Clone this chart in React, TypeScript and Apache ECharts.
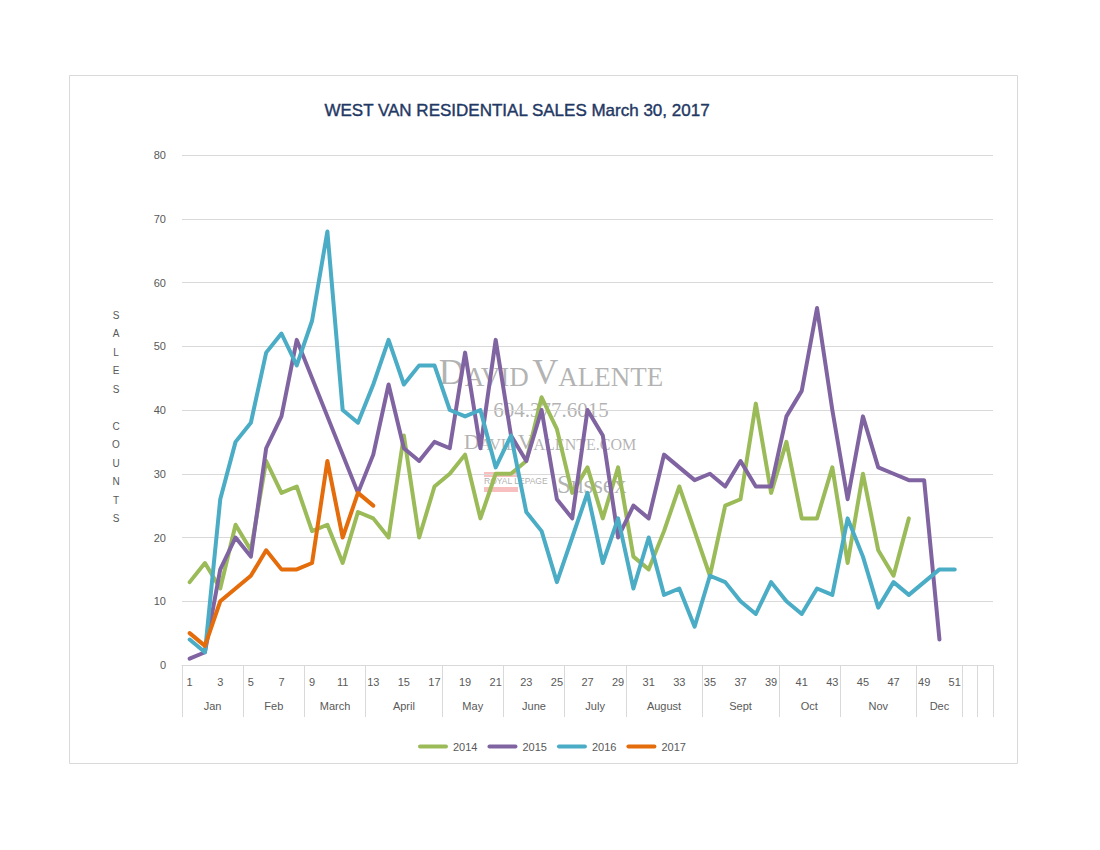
import React, { useEffect, useRef } from "react";
import * as echarts from "echarts";

const weekLabels = [
  "1", "2", "3", "4", "5", "6", "7", "8", "9", "10", "11", "12", "13", "14", "15", "16", "17", "18",
  "19", "20", "21", "22", "23", "24", "25", "26", "27", "28", "29", "30", "31", "32", "33", "34", "35",
  "36", "37", "38", "39", "40", "41", "42", "43", "44", "45", "46", "47", "48", "49", "50", "51", "", "",
];

const monthNames = ["Jan", "Feb", "March", "April", "May", "June", "July", "August", "Sept", "Oct", "Nov", "Dec", "", ""];
const monthWeeks = [4, 4, 4, 5, 4, 4, 4, 5, 5, 4, 5, 3, 1, 1];

const sales2014 = [
  13, 16, 12, 22, 18, 32, 27, 28, 21, 22, 16, 24, 23, 20, 36, 20, 28, 30, 33, 23, 30, 30, 32, 42, 37,
  27, 31, 23, 31, 17, 15, 21, 28, 21, 14, 25, 26, 41, 27, 35, 23, 23, 31, 16, 30, 18, 14, 23,
];
const sales2015 = [
  1, 2, 15, 20, 17, 34, 39, 51, 45, 39, 33, 27, 33, 44, 34, 32, 35, 34, 49, 34, 51, 36, 32, 40, 26,
  23, 40, 36, 20, 25, 23, 33, 31, 29, 30, 28, 32, 28, 28, 39, 43, 56, 40, 26, 39, 31, 30, 29, 29, 4,
];
const sales2016 = [
  4, 2, 26, 35, 38, 49, 52, 47, 54, 68, 40, 38, 44, 51, 44, 47, 47, 40, 39, 40, 31, 36, 24, 21, 13,
  20, 27, 16, 23, 12, 20, 11, 12, 6, 14, 13, 10, 8, 13, 10, 8, 12, 11, 23, 17, 9, 13, 11, 13, 15, 15,
];
const sales2017 = [5, 3, 10, 12, 14, 18, 15, 15, 16, 32, 20, 27, 25];

const seriesNames = ["2014", "2015", "2016", "2017"];
const seriesColors = ["#9BBB59", "#8064A2", "#4BACC6", "#E46C0A"];

const FONT = '"Liberation Sans", Arial, sans-serif';
const SERIF = '"Liberation Serif", "Times New Roman", serif';
const GRAY = "#595959";
const LIGHT = "#d9d9d9";

export default function App() {
  const ref = useRef<HTMLDivElement>(null);

  useEffect(() => {
    if (!ref.current) return;
    const chart = echarts.init(ref.current, undefined, { renderer: "svg" });

    const boundaries: number[] = [];
    const centers: { v: number; name: string }[] = [];
    let acc = 0;
    monthWeeks.forEach((n, i) => {
      boundaries.push(acc);
      centers.push({ v: acc + n / 2, name: monthNames[i] });
      acc += n;
    });

    const pad = (arr: number[]) => weekLabels.map((_, i) => (i < arr.length ? arr[i] : null));
    const allData = [sales2014, sales2015, sales2016, sales2017];

    const wm = "#9a9a9a";

    chart.setOption({
      animation: false,
      backgroundColor: "#ffffff",
      grid: { left: 182, top: 155, width: 811, height: 510, containLabel: false },
      legend: {
        left: 413,
        top: 736,
        itemWidth: 30,
        itemHeight: 4,
        itemGap: 10,
        icon: "path://M2,0H28A2,2,0,0,1,28,4H2A2,2,0,0,1,2,0Z",
        textStyle: { color: GRAY, fontSize: 11, fontFamily: FONT },
        data: seriesNames,
      },
      xAxis: [
        {
          type: "category",
          position: "bottom",
          data: weekLabels,
          boundaryGap: true,
          axisLine: { show: true, lineStyle: { color: LIGHT, width: 1 } },
          axisTick: {
            show: true,
            length: 52,
            interval: (index: number) => boundaries.indexOf(index) >= 0,
            lineStyle: { color: LIGHT, width: 1 },
          },
          axisLabel: {
            interval: 1,
            color: GRAY,
            fontSize: 11,
            fontFamily: FONT,
            margin: 11,
          },
          splitLine: { show: false },
        },
        {
          type: "value",
          position: "bottom",
          offset: 0,
          min: 0,
          max: 53,
          interval: 0.5,
          axisLine: { show: false },
          axisTick: { show: false },
          splitLine: { show: false },
          axisLabel: {
            color: GRAY,
            fontSize: 11,
            fontFamily: FONT,
            margin: 35,
            showMinLabel: true,
            showMaxLabel: true,
            formatter: (v: number) => {
              const c = centers.find((m) => Math.abs(m.v - v) < 0.01);
              return c ? c.name : "";
            },
          },
        },
      ],
      yAxis: {
        type: "value",
        min: 0,
        max: 80,
        interval: 10,
        axisLine: { show: false },
        axisTick: { show: false },
        axisLabel: { color: GRAY, fontSize: 11, fontFamily: FONT, margin: 16 },
        splitLine: { show: true, lineStyle: { color: LIGHT, width: 1 } },
      },
      series: allData.map((d, i) => ({
        name: seriesNames[i],
        type: "line",
        xAxisIndex: 0,
        yAxisIndex: 0,
        data: pad(d),
        symbol: "none",
        smooth: false,
        connectNulls: false,
        color: seriesColors[i],
        lineStyle: { color: seriesColors[i], width: 4, cap: "round", join: "round" },
        itemStyle: { color: seriesColors[i] },
      })),
      graphic: [
        {
          type: "rect",
          z: -10,
          silent: true,
          shape: { x: 69.5, y: 75.5, width: 948, height: 688 },
          style: { fill: "none", stroke: LIGHT, lineWidth: 1 },
        },
        {
          type: "text",
          x: 517,
          y: 110,
          silent: true,
          style: {
            text: "WEST VAN RESIDENTIAL SALES March 30, 2017",
            fill: "#1F3864",
            stroke: "#1F3864",
            lineWidth: 0.4,
            font: `normal 17px ${FONT}`,
            align: "center",
            verticalAlign: "middle",
          },
        },
        {
          type: "text",
          x: 116,
          y: 306,
          silent: true,
          style: {
            text: "S\nA\nL\nE\nS\n\nC\nO\nU\nN\nT\nS",
            fill: GRAY,
            font: `normal 10px ${FONT}`,
            lineHeight: 18.5,
            align: "center",
            verticalAlign: "top",
          },
        },
        {
          type: "group",
          z: 100,
          silent: true,
          children: [
            {
              type: "text",
              x: 551,
              y: 372,
              style: {
                text: "{b|D}{s|AVID} {b|V}{s|ALENTE}",
                fill: wm,
                opacity: 0.75,
                align: "center",
                verticalAlign: "middle",
                rich: {
                  b: { fontSize: 36, fontFamily: SERIF, fill: wm, verticalAlign: "bottom" },
                  s: { fontSize: 27, fontFamily: SERIF, fill: wm, verticalAlign: "bottom" },
                },
              },
            },
            {
              type: "text",
              x: 551,
              y: 410,
              style: {
                text: "604.377.6015",
                fill: wm,
                opacity: 0.75,
                font: `normal 21px ${SERIF}`,
                align: "center",
                verticalAlign: "middle",
              },
            },
            {
              type: "text",
              x: 550,
              y: 441,
              style: {
                text: "{b|D}{s|AVID}{b|V}{s|ALENTE.COM}",
                fill: wm,
                opacity: 0.75,
                align: "center",
                verticalAlign: "middle",
                rich: {
                  b: { fontSize: 22, fontFamily: SERIF, fill: wm, verticalAlign: "bottom" },
                  s: { fontSize: 16, fontFamily: SERIF, fill: wm, verticalAlign: "bottom" },
                },
              },
            },
            {
              type: "rect",
              shape: { x: 484, y: 472, width: 34, height: 5 },
              style: { fill: "#f08080", opacity: 0.5 },
            },
            {
              type: "rect",
              shape: { x: 484, y: 487, width: 34, height: 5 },
              style: { fill: "#f08080", opacity: 0.5 },
            },
            {
              type: "text",
              x: 484,
              y: 481,
              style: {
                text: "ROYAL LEPAGE",
                fill: wm,
                opacity: 0.8,
                font: `normal 8.5px ${FONT}`,
                align: "left",
                verticalAlign: "middle",
              },
            },
            {
              type: "text",
              x: 557,
              y: 484,
              style: {
                text: "Sussex",
                fill: wm,
                opacity: 0.75,
                font: `normal 25px ${SERIF}`,
                align: "left",
                verticalAlign: "middle",
              },
            },
          ],
        },
      ],
    });

    return () => {
      chart.dispose();
    };
  }, []);

  return (
    <div
      ref={ref}
      style={{ position: "absolute", left: 0, top: 0, width: 1100, height: 850, background: "#ffffff" }}
    />
  );
}
